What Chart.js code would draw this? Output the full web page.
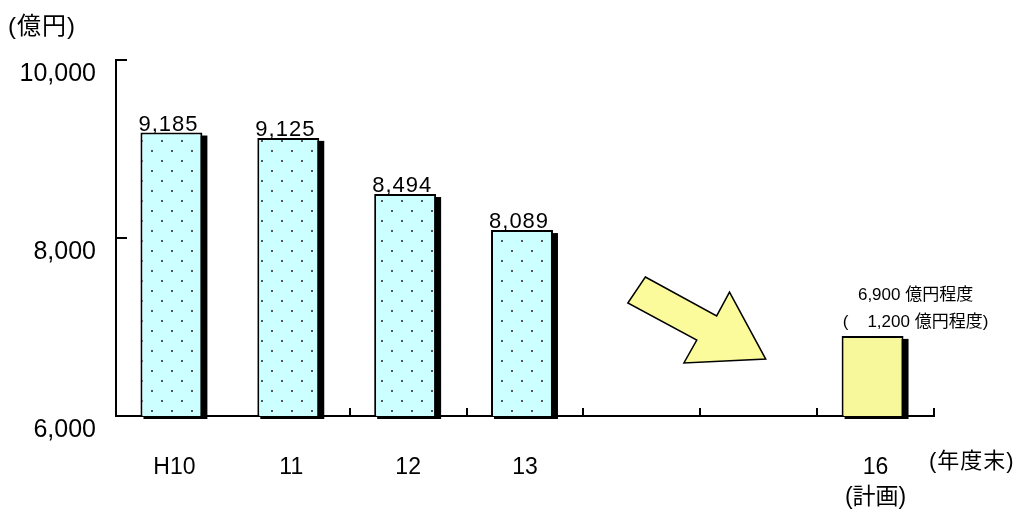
<!DOCTYPE html>
<html lang="ja">
<head>
<meta charset="UTF-8">
<title>残高の推移</title>
<style>
  body { margin: 0; background: #fff; }
  #wrap { width: 1022px; height: 511px; }
</style>
<script src="https://cdn.jsdelivr.net/npm/chart.js"></script>
</head>
<body>
<div id="wrap"><canvas id="balanceChart" width="1022" height="511"></canvas></div>
<script>
// 年度末残高 (億円)
const years = ['H10', '11', '12', '13', '', '', ['16', '(計画)']];
const balances = [9185, 9125, 8494, 8089, null, null, 6900];
const yTicks = [6000, 8000, 10000];
const planIndex = 6;
const planNote = ['6,900 億円程度', '(    1,200 億円程度)'];

const FAMILY = "'Liberation Sans', 'Noto Sans CJK JP', sans-serif";
Chart.defaults.font.family = FAMILY;
Chart.defaults.color = '#000';

const barShift = -3;

// cyan fill with staggered grey dots
function dotPattern() {
    const c = document.createElement('canvas');
    c.width = 20;
    c.height = 20;
    const g = c.getContext('2d');
    g.fillStyle = '#ccffff';
    g.fillRect(0, 0, 20, 20);
    g.fillStyle = '#555';
    g.fillRect(4, 0, 2, 2);
    g.fillRect(14, 10, 2, 2);
    return g.createPattern(c, 'repeat');
}
const dots = dotPattern();
const fills = balances.map((v, i) => i === planIndex ? '#f7f79b' : dots);

// black drop shadow behind each bar
const shadowPlugin = {
    id: 'barShadow',
    beforeDatasetsDraw(chart) {
        const ctx = chart.ctx;
        const bottom = chart.chartArea.bottom;
        ctx.save();
        ctx.translate(barShift, 0);
        ctx.fillStyle = '#000';
        chart.getDatasetMeta(0).data.forEach((bar, i) => {
            if (balances[i] == null) return;
            const left = bar.x - bar.width / 2;
            const base = Math.min(bar.base, bottom);
            ctx.fillRect(left + 3, bar.y + 3, bar.width + 2, base - bar.y);
        });
    },
    afterDatasetsDraw(chart) {
        chart.ctx.restore();
    }
};

const decorPlugin = {
    id: 'decor',
    afterDraw(chart) {
        const { ctx, chartArea: area, scales: { x, y } } = chart;
        const bars = chart.getDatasetMeta(0).data;
        ctx.save();

        // inward tick marks
        ctx.strokeStyle = '#000';
        ctx.lineWidth = 2;
        ctx.beginPath();
        yTicks.slice(1).forEach(v => {
            const py = Math.round(y.getPixelForValue(v));
            ctx.moveTo(area.left, py);
            ctx.lineTo(area.left + 11, py);
        });
        for (let i = 2; i <= years.length; i++) {
            const px = Math.round(x.getPixelForValue(i - 0.5));
            ctx.moveTo(px, area.bottom);
            ctx.lineTo(px, area.bottom - 8);
        }
        ctx.stroke();

        // values above the bars
        ctx.fillStyle = '#000';
        ctx.font = '22px ' + FAMILY;
        ctx.letterSpacing = '1px';
        ctx.textAlign = 'left';
        ctx.textBaseline = 'alphabetic';
        bars.forEach((bar, i) => {
            if (balances[i] == null || i === planIndex) return;
            ctx.fillText(balances[i].toLocaleString('en-US'), bar.x - bar.width / 2 + barShift - 2, bar.y - 2);
        });

        // note over the plan bar
        const plan = bars[planIndex];
        ctx.font = '17px ' + FAMILY;
        ctx.letterSpacing = '0px';
        ctx.textAlign = 'center';
        ctx.textBaseline = 'middle';
        ctx.fillText(planNote[0], plan.x + 40, plan.y - 41);
        ctx.fillText(planNote[1], plan.x + 40, plan.y - 14);

        // downward arrow, outline in (category, 億円) units
        const outline = [[4.03, 7562], [4.64, 7124], [4.75, 7393], [5.06, 6640],
                         [4.36, 6596], [4.47, 6854], [3.88, 7270]];
        ctx.beginPath();
        outline.forEach(([c, v], k) => {
            const px = x.getPixelForValue(c), py = y.getPixelForValue(v);
            if (k === 0) ctx.moveTo(px, py); else ctx.lineTo(px, py);
        });
        ctx.closePath();
        ctx.fillStyle = '#fbfb9c';
        ctx.fill();
        ctx.lineWidth = 1.5;
        ctx.stroke();

        // unit captions
        ctx.fillStyle = '#000';
        ctx.textAlign = 'left';
        ctx.letterSpacing = '1px';
        ctx.font = '24px ' + FAMILY;
        ctx.fillText('(億円)', 8, area.top - 33);
        ctx.font = '22px ' + FAMILY;
        ctx.fillText('(年度末)', area.right - 5, area.bottom + 46);

        ctx.restore();
    }
};

new Chart(document.getElementById('balanceChart'), {
    type: 'bar',
    data: {
        labels: years,
        datasets: [{
            data: balances,
            backgroundColor: fills,
            borderColor: '#000',
            borderWidth: 2,
            barPercentage: 0.53,
            categoryPercentage: 1
        }]
    },
    options: {
        responsive: false,
        animation: false,
        devicePixelRatio: 1,
        layout: { padding: { top: 60, right: 88, bottom: 0, left: 0 } },
        plugins: { legend: { display: false }, tooltip: { enabled: false } },
        scales: {
            x: {
                grid: { display: false, drawTicks: false },
                border: { color: '#000', width: 2 },
                ticks: { font: { size: 23, lineHeight: 1.3 }, padding: 37, maxRotation: 0, autoSkip: false },
                afterFit: s => { s.height = 95; }
            },
            y: {
                min: 6000,
                max: 10000,
                grid: { display: false, drawTicks: false },
                border: { color: '#000', width: 2 },
                ticks: {
                    font: { size: 25 },
                    padding: 20,
                    labelOffset: 14,
                    callback: v => v.toLocaleString('en-US')
                },
                afterBuildTicks: s => { s.ticks = yTicks.map(v => ({ value: v })); },
                afterFit: s => { s.width = 116; }
            }
        }
    },
    plugins: [shadowPlugin, decorPlugin]
});
</script>
</body>
</html>
